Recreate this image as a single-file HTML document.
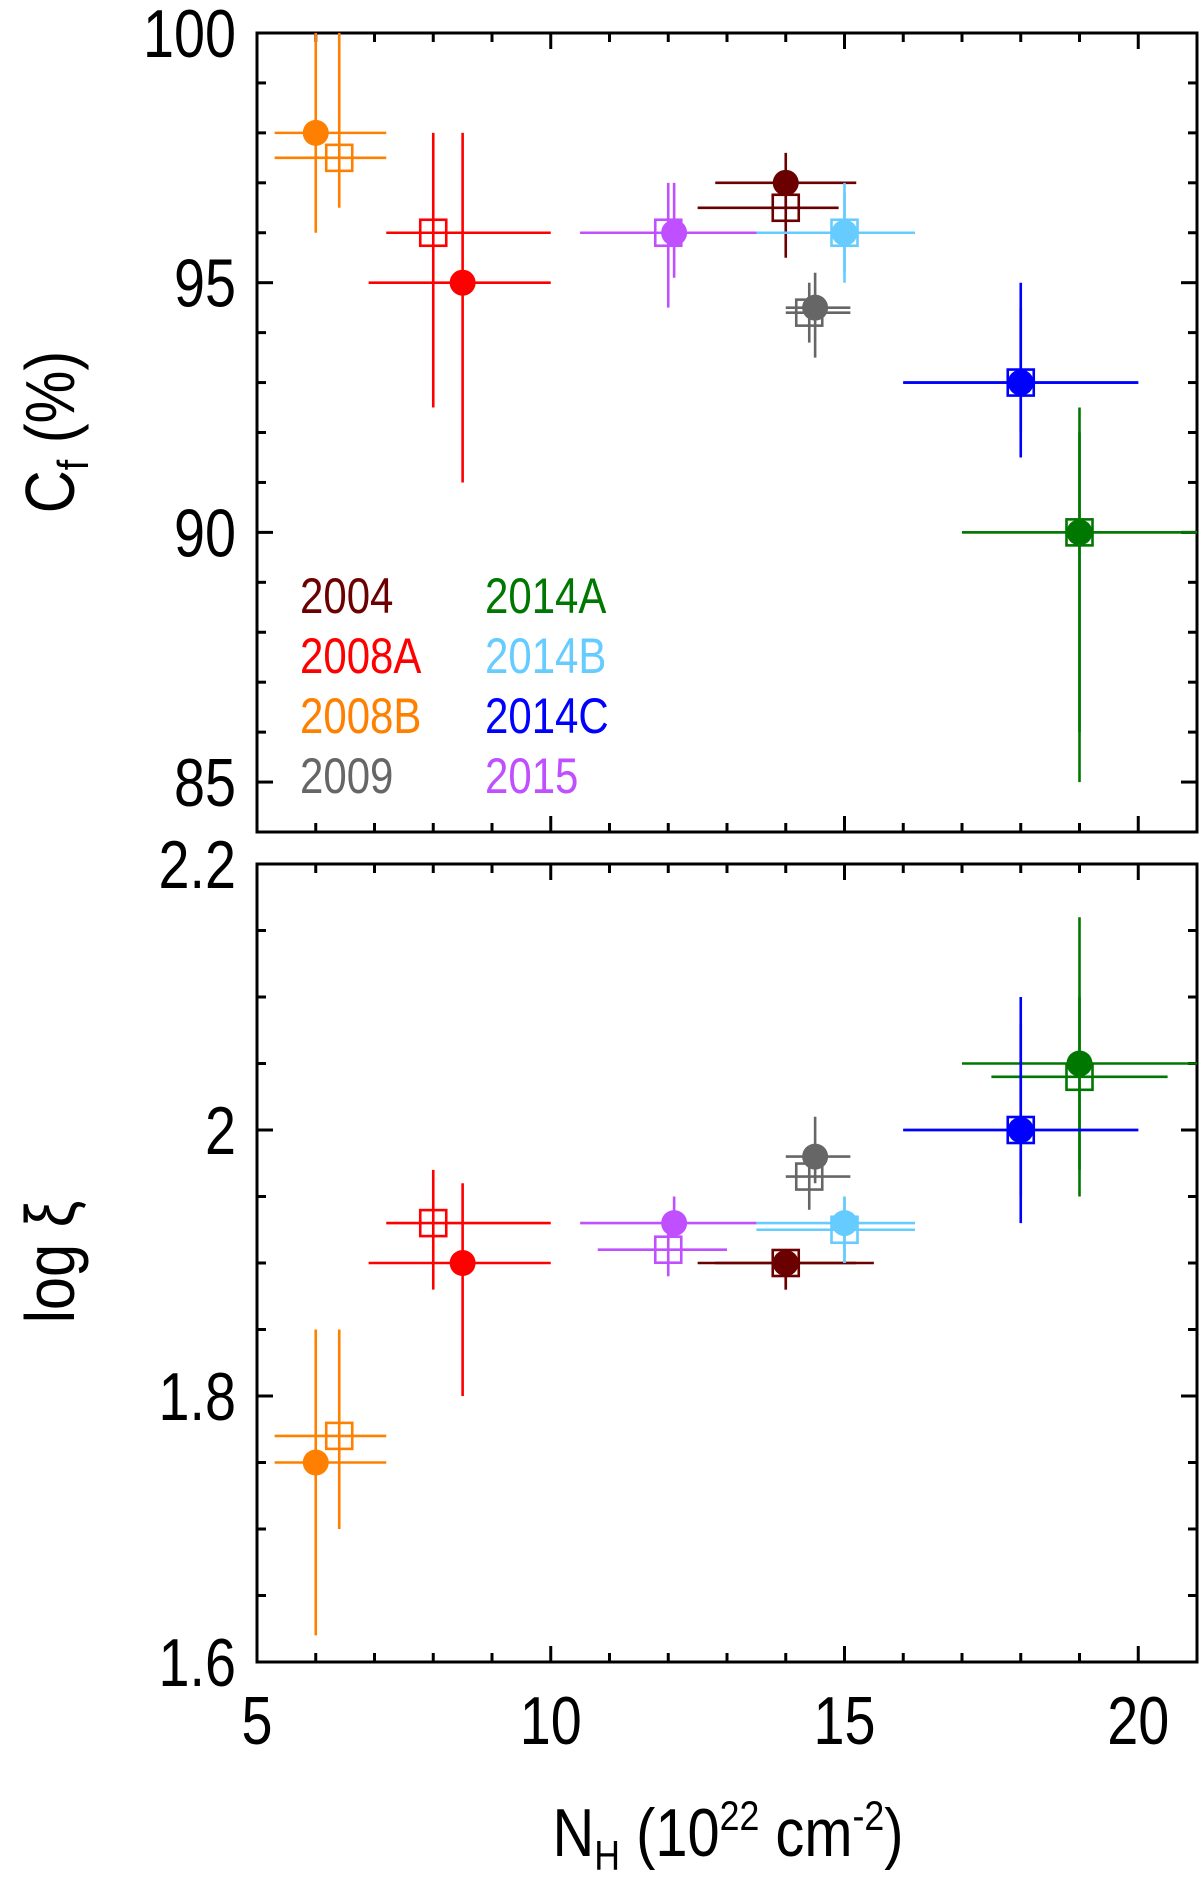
<!DOCTYPE html>
<html><head><meta charset="utf-8"><style>
html,body{margin:0;padding:0;background:#fff;}
svg{display:block;font-family:"Liberation Sans","DejaVu Sans",sans-serif;}
</style></head><body>
<svg id="chart" width="1200" height="1885" viewBox="0 0 1200 1885" xmlns="http://www.w3.org/2000/svg"></svg>
<script>
// ---- data ----
const years = ["2004","2008A","2008B","2009","2014A","2014B","2014C","2015"];
const colors = ["#6b0000","#ff0000","#ff8000","#666666","#007700","#66ccff","#0000ff","#c050ff"];
// circles (filled)
const cNH     = [14.0, 8.5, 6.0, 14.5, 19.0, 15.0, 18.0, 12.1];
const cNHlo   = [12.8, 6.9, 5.3, 14.0, 17.0, 13.5, 16.0, 10.5];
const cNHhi   = [15.2, 10.0, 7.2, 15.1, 21.0, 16.2, 20.0, 13.5];
const cCf     = [97.0, 95.0, 98.0, 94.5, 90.0, 96.0, 93.0, 96.0];
const cCflo   = [96.5, 91.0, 96.0, 93.5, 85.0, 95.0, 91.5, 95.1];
const cCfhi   = [97.6, 98.0, 100, 95.2, 92.5, 97.0, 95.0, 97.0];
const cXi     = [1.90, 1.90, 1.75, 1.98, 2.05, 1.93, 2.00, 1.93];
const cXilo   = [1.88, 1.80, 1.62, 1.96, 1.95, 1.90, 1.93, 1.92];
const cXihi   = [1.91, 1.96, 1.85, 2.01, 2.16, 1.95, 2.10, 1.95];
// squares (open)
const sNH     = [14.0, 8.0, 6.4, 14.4, 19.0, 15.0, 18.0, 12.0];
const sNHloT  = [12.5, 7.2, 5.3, 14.0, 17.0, 13.5, 16.0, 10.5];
const sNHhiT  = [14.9, 10.0, 7.2, 15.1, 21.0, 16.2, 20.0, 13.5];
const sCf     = [96.5, 96.0, 97.5, 94.4, 90.0, 96.0, 93.0, 96.0];
const sCflo   = [95.5, 92.5, 96.5, 93.8, 86.0, 95.2, 92.0, 94.5];
const sCfhi   = [97.2, 98.0, 100, 95.0, 92.0, 96.8, 94.5, 97.0];
const sNHloB  = [12.5, 7.2, 5.3, 14.0, 17.5, 13.5, 16.0, 10.8];
const sNHhiB  = [15.5, 10.0, 7.2, 15.1, 20.5, 16.2, 20.0, 13.0];
const sXi     = [1.90, 1.93, 1.77, 1.965, 2.04, 1.925, 2.00, 1.91];
const sXilo   = [1.88, 1.88, 1.70, 1.94, 1.97, 1.90, 1.95, 1.89];
const sXihi   = [1.91, 1.97, 1.85, 1.98, 2.10, 1.95, 2.08, 1.93];
const xTicks = ["5","10","15","20"];
const cfTicks = ["85","90","95","100"];
const xiTicks = ["1.6","1.8","2","2.2"];

const svg = document.getElementById('chart');
const NS = "http://www.w3.org/2000/svg";
function mk(tag, attrs, parent){const e=document.createElementNS(NS,tag);for(const k in attrs)e.setAttribute(k,attrs[k]);(parent||svg).appendChild(e);return e;}
function ctext(parent,x,y,str,size,anchor,fill,sx){
  const g=mk('g',{transform:'translate('+x+','+y+') scale('+sx+',1)'},parent);
  const t=mk('text',{x:0,y:0,'text-anchor':anchor,'font-size':size,fill:fill},g);
  t.textContent=str;
  return t;
}

const L=257,R=1197;
const X=v=>L+(v-5)*(R-L)/16;
const T0=33,T1=832, B0=864,B1=1662;
const Yt=v=>T0+(100-v)*(T1-T0)/16;
const Yb=v=>B0+(2.2-v)*(B1-B0)/0.6;

function frame(top,bot,name,yMinorVals,Yf,yMajorVals,yLabels){
  const g=mk('g',{});
  
  
  mk('rect',{x:L,y:top,width:R-L,height:bot-top,fill:'none',stroke:'#000','stroke-width':3},g);
  for(let v=5;v<=21;v++){
    const maj=(v%5===0), len=maj?16:9;
    mk('line',{x1:X(v),x2:X(v),y1:bot,y2:bot-len,stroke:'#000','stroke-width':3},g);
    mk('line',{x1:X(v),x2:X(v),y1:top,y2:top+len,stroke:'#000','stroke-width':3},g);
  }
  yMinorVals.forEach(v=>{
    const maj=yMajorVals.some(m=>Math.abs(m-v)<1e-6), len=maj?16:9;
    mk('line',{x1:L,x2:L+len,y1:Yf(v),y2:Yf(v),stroke:'#000','stroke-width':3},g);
    mk('line',{x1:R,x2:R-len,y1:Yf(v),y2:Yf(v),stroke:'#000','stroke-width':3},g);
  });
  yMajorVals.forEach((v,i)=>{
    const t=ctext(g,236,Yf(v)+24,yLabels[i],68,'end','#000',0.82);
    
    
  });
  return g;
}
const cfMinor=[];for(let v=84;v<=100;v++)cfMinor.push(v);
frame(T0,T1,'top-panel-frame',cfMinor,Yt,cfTicks.map(Number),cfTicks);
const xiMinor=[];for(let v=1.6;v<=2.2001;v+=0.05)xiMinor.push(+v.toFixed(2));
frame(B0,B1,'bottom-panel-frame',xiMinor,Yb,xiTicks.map(Number),xiTicks);

xTicks.forEach(s=>{
  const t=ctext(svg,X(+s),1744,s,68,'middle','#000',0.82);
  
  
});

function errbar(g,x1,x2,y1,y2,c){mk('line',{x1:x1,x2:x2,y1:y1,y2:y2,stroke:c,'stroke-width':2.6},g);}
function clipY(y,top,bot){return Math.max(top,Math.min(bot,y));}

years.forEach((yr,i)=>{
  const c=colors[i];
  const g=mk('g',{});
  
  
  errbar(g,X(sNHloT[i]),Math.min(R,X(sNHhiT[i])),Yt(sCf[i]),Yt(sCf[i]),c);
  errbar(g,X(sNH[i]),X(sNH[i]),clipY(Yt(sCfhi[i]),T0,T1),Yt(sCflo[i]),c);
  mk('rect',{x:X(sNH[i])-13,y:Yt(sCf[i])-13,width:26,height:26,fill:'none',stroke:c,'stroke-width':2.6},g);
  errbar(g,X(cNHlo[i]),Math.min(R,X(cNHhi[i])),Yt(cCf[i]),Yt(cCf[i]),c);
  errbar(g,X(cNH[i]),X(cNH[i]),clipY(Yt(cCfhi[i]),T0,T1),Yt(cCflo[i]),c);
  const c1=mk('circle',{cx:X(cNH[i]),cy:Yt(cCf[i]),r:13,fill:c},g);
  
  
  errbar(g,X(sNHloB[i]),Math.min(R,X(sNHhiB[i])),Yb(sXi[i]),Yb(sXi[i]),c);
  errbar(g,X(sNH[i]),X(sNH[i]),Yb(sXihi[i]),Yb(sXilo[i]),c);
  mk('rect',{x:X(sNH[i])-13,y:Yb(sXi[i])-13,width:26,height:26,fill:'none',stroke:c,'stroke-width':2.6},g);
  errbar(g,X(cNHlo[i]),Math.min(R,X(cNHhi[i])),Yb(cXi[i]),Yb(cXi[i]),c);
  errbar(g,X(cNH[i]),X(cNH[i]),Yb(cXihi[i]),Yb(cXilo[i]),c);
  const c2=mk('circle',{cx:X(cNH[i]),cy:Yb(cXi[i]),r:13,fill:c},g);
  
  
  const col=i<4?0:1,row=i%4;
  const t=ctext(svg,col?485:300,613+row*60,yr,50,'start',c,0.84);
  
  
});
</script>
<svg style="position:absolute;left:0;top:0" width="1200" height="1885">
<text transform="translate(74,432) rotate(-90) scale(0.85,1)" text-anchor="middle" font-size="70" font-family="Liberation Sans, sans-serif">C<tspan font-size="44" dy="14">f</tspan><tspan dy="-14"> (%)</tspan></text>
<text transform="translate(74,1262) rotate(-90) scale(0.85,1)" text-anchor="middle" font-size="70" font-family="Liberation Sans, DejaVu Sans, sans-serif">log ξ</text>
<text transform="translate(728,1856) scale(0.85,1)" text-anchor="middle" font-size="68" font-family="Liberation Sans, sans-serif">N<tspan font-size="42" dy="14">H</tspan><tspan dy="-14"> (10</tspan><tspan font-size="42" dy="-26">22</tspan><tspan dy="26"> cm</tspan><tspan font-size="42" dy="-26">-2</tspan><tspan dy="26">)</tspan></text>
</svg>
</body></html>
